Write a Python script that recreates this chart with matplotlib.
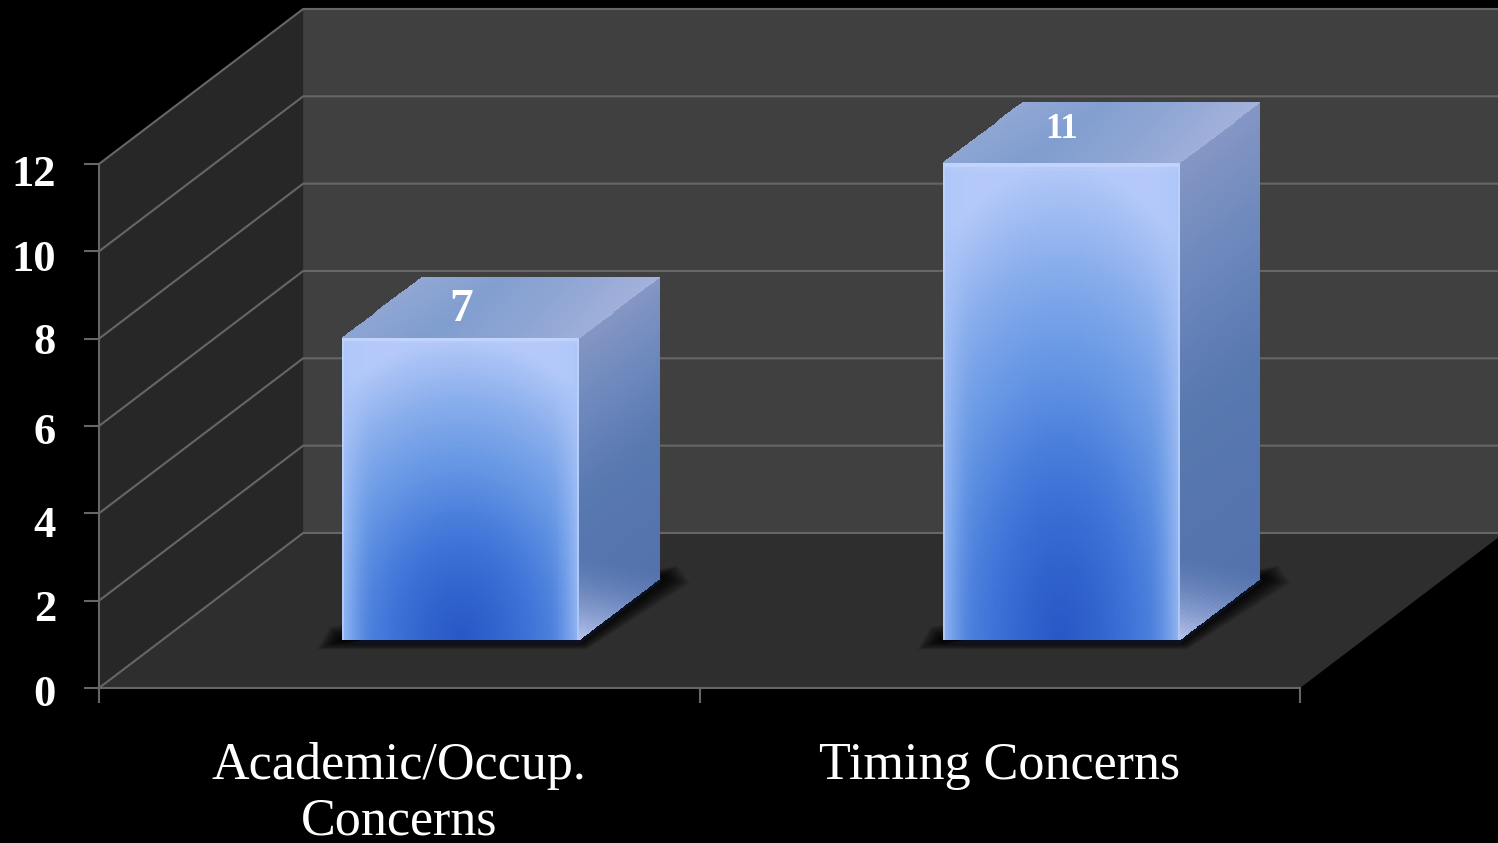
import numpy as np
import matplotlib
matplotlib.use("Agg")
import matplotlib.pyplot as plt
from matplotlib.colors import LinearSegmentedColormap, to_rgb
from matplotlib.transforms import ScaledTranslation

categories = ["Academic/Occup.\nConcerns", "Timing Concerns"]
values = [7, 11]
y_ticks = [0, 2, 4, 6, 8, 10, 12]

# pseudo 3D : profondeur du graphique, en unites des axes
depth_x = 0.34
depth_y = 3.55
bar_width = 0.395
bar_shift = 0.005
bar_front = 0.286
bar_depth = 0.395
bar_base = 1.1

# decalage vertical des chiffres (chiffres elzeviriens dans l'original), en pixels
label_drop = [3, 5, 8, 2, 0, 4, 7]

plt.rcParams["font.family"] = ["Liberation Serif", "DejaVu Serif"]

W, H = 1498, 843
fig = plt.figure(figsize=(W / 100, H / 100), dpi=100, facecolor="black")
ax = fig.add_axes([99 / W, (H - 688) / H, 1201 / W, 524 / H], facecolor="none")

grid_col = "#666666"


def poly(xs, ys, color, z, alpha=1.0):
    ax.fill(xs, ys, color=color, zorder=z, alpha=alpha, lw=0, clip_on=False)


def ramp(stops, t):
    cm = LinearSegmentedColormap.from_list("r", [to_rgb(c) for c in stops])
    return cm(np.clip(t, 0, 1))[..., :3]


# murs et sol
poly([depth_x, 2.5, 2.5, depth_x], [depth_y, depth_y, 12 + depth_y, 12 + depth_y], "#404040", 1)
poly([0, depth_x, depth_x, 0], [0, depth_y, 12 + depth_y, 12], "#272727", 1)
poly([0, 2, 2 + depth_x, depth_x], [0, 0, depth_y, depth_y], "#2e2e2e", 1.5)

for v in y_ticks:
    ax.plot([0, depth_x, 2.5], [v, v + depth_y, v + depth_y], color=grid_col, lw=1.5,
            zorder=2, clip_on=False)


def face(x0, y0, ex, ey, colors, z):
    # maille parallelogramme coloree : colors de forme (n, m, 3)
    n, m = colors.shape[:2]
    a, b = np.meshgrid(np.linspace(0, 1, m + 1), np.linspace(0, 1, n + 1))
    X = x0 + a * ex[0] + b * ey[0]
    Y = y0 + a * ex[1] + b * ey[1]
    return ax.pcolormesh(X, Y, colors, shading="flat", zorder=z, clip_on=False,
                         antialiased=False, linewidth=0)


centers = [0.5, 1.5]
for c, val in zip(centers, values):
    x0 = c - bar_width / 2 + bar_shift + bar_front * depth_x
    x1 = x0 + bar_width
    ytop = val + bar_front * depth_y
    dx = bar_depth * depth_x
    dy = bar_depth * depth_y

    # ombre portee floue
    for k in np.linspace(1, 0.05, 24):
        poly([x0 - 0.042 * k, x1 + 0.012 * k, x1 + dx + 0.05 * k, x1 + dx + 0.03 * k, x0 - 0.02 * k],
             [bar_base - 0.22 * k, bar_base - 0.22 * k, bar_base + dy - 0.1 * k,
              bar_base + dy + 0.3 * k, bar_base + 0.3 * k],
             "black", 3, alpha=0.06)
    poly([x0, x1, x1 + dx + 0.004, x1 + dx],
         [bar_base - 0.1, bar_base - 0.1, bar_base + dy - 0.05, bar_base + dy + 0.02],
         "#0c1222", 3.2)

    # face avant
    n, m = 120, 120
    u = (np.arange(m) + 0.5) / m * 2 - 1
    v = (np.arange(n) + 0.5) / n
    U, V = np.meshgrid(u, v)
    r = np.sqrt((U * 0.55) ** 2 + V ** 2)
    col = ramp(["#2858c6", "#4074d8", "#6496e4", "#8aaeec", "#b4c9f9"], r ** 1.25)
    edge = np.clip((np.abs(U) - 0.72) / 0.28, 0, 1) ** 2
    light = np.array(to_rgb("#a9c4f8"))
    col = col * (1 - 0.75 * edge[..., None]) + light * 0.75 * edge[..., None]
    rim = np.clip((np.abs(U) - 0.975) / 0.025, 0, 1) * 0.6
    rim2 = np.clip((V - 0.985) / 0.015, 0, 1) * 0.6
    rim3 = np.maximum(rim, rim2)[..., None]
    col = col * (1 - rim3) + np.array(to_rgb("#d4e2fd")) * rim3
    face(x0, bar_base, (bar_width, 0), (0, ytop - bar_base), col, 5)

    # face laterale
    n, m = 100, 50
    a_, b_ = np.meshgrid((np.arange(m) + 0.5) / m, (np.arange(n) + 0.5) / n)
    col = ramp(["#5473ad", "#5878b0", "#6d88bd", "#8496c4"], b_ ** 1.4)
    corner = np.clip(1 - (b_ * (ytop - bar_base) / 2.0 + a_ * 0.9), 0, 1)[..., None] ** 1.6
    col = col * (1 - corner) + np.array(to_rgb("#b8c4ee")) * corner
    face(x1, bar_base, (dx, dy), (0, ytop - bar_base), col, 4.5)

    # face superieure
    n, m = 30, 100
    a_, b_ = np.meshgrid((np.arange(m) + 0.5) / m, (np.arange(n) + 0.5) / n)
    t = np.abs(a_ - 0.35) * 1.3 + b_ * 0.15
    col = ramp(["#7f9dcf", "#8ea5d3", "#a4b2dc"], t)
    face(x0, ytop, (bar_width, 0), (dx, dy), col, 4.6)

    ax.text(x0 + bar_width / 2, ytop + dy * (0.45 if val < 10 else 0.56), str(val), color="white",
            fontsize=34 if val < 10 else 25, fontweight="bold", ha="center", va="center", zorder=7)

ax.set_xlim(0, 2)
ax.set_ylim(0, 12)

for side in ["top", "right"]:
    ax.spines[side].set_visible(False)
for side in ["left", "bottom"]:
    ax.spines[side].set_color(grid_col)
    ax.spines[side].set_linewidth(1.5)
    ax.spines[side].set_zorder(2)

ax.set_xticks([0, 1, 2])
ax.set_xticklabels([])
ax.set_xticks(centers, minor=True)
ax.set_xticklabels(categories, minor=True, color="white", fontsize=37.5, linespacing=1.2)
ax.set_yticks(y_ticks)
ax.set_yticklabels([str(v) for v in y_ticks], color="white", fontsize=32, fontweight="bold")
ax.tick_params(axis="x", which="major", length=11, width=1.5, color=grid_col)
ax.tick_params(axis="x", which="minor", length=0, pad=39)
ax.tick_params(axis="y", length=11, width=1.5, color=grid_col, pad=20)

for lbl, drop in zip(ax.get_yticklabels(), label_drop):
    lbl.set_transform(lbl.get_transform() + ScaledTranslation(0, -drop / 100, fig.dpi_scale_trans))

fig.savefig("out.png", dpi=100, facecolor="black")
